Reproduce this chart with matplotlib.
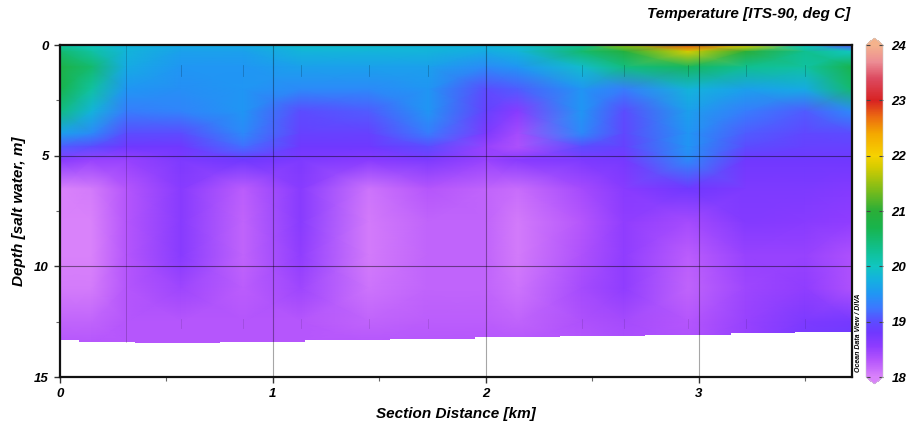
import numpy as np
import matplotlib
matplotlib.use("Agg")
import matplotlib.pyplot as plt
from matplotlib.colors import LinearSegmentedColormap, Normalize
from matplotlib.ticker import MultipleLocator
import matplotlib.cm as cm

FONT = ['Liberation Sans Narrow', 'Liberation Sans', 'DejaVu Sans']
plt.rcParams['font.family'] = FONT

# ---------------- data ----------------
dist_km = [0.0, 0.15, 0.31, 0.57, 0.86, 1.13, 1.45, 1.73, 2.0, 2.15, 2.45, 2.65, 2.95, 3.22, 3.50, 3.72]
depth_m = [0, 0.3, 1, 2, 3, 4, 4.6, 5.2, 6.5, 8, 9.5, 11, 12.5, 13.5]

# temperature per station column (values top -> bottom)
t_000 = [20.2, 20.5, 20.8, 20.7, 20.4, 19.6, 19.1, 18.6, 18.0, 18.0, 18.0, 18.05, 18.2, 18.3]
t_015 = [20.0, 20.2, 20.5, 20.2, 19.8, 19.4, 19.0, 18.5, 18.05, 18.0, 18.0, 18.05, 18.2, 18.3]
t_031 = [19.8, 19.8, 19.7, 19.5, 19.3, 19.0, 18.8, 18.5, 18.3, 18.3, 18.3, 18.3, 18.3, 18.3]
t_057 = [19.7, 19.6, 19.5, 19.45, 19.35, 19.0, 18.8, 18.7, 18.6, 18.6, 18.6, 18.45, 18.3, 18.3]
t_086 = [19.7, 19.6, 19.5, 19.5, 19.5, 19.4, 19.2, 18.8, 18.25, 18.2, 18.2, 18.25, 18.3, 18.3]
t_113 = [19.9, 19.8, 19.6, 19.4, 19.0, 18.9, 18.8, 18.7, 18.6, 18.6, 18.55, 18.45, 18.3, 18.3]
t_145 = [19.9, 19.8, 19.6, 19.4, 19.1, 18.9, 18.8, 18.6, 18.1, 18.05, 18.05, 18.1, 18.2, 18.3]
t_173 = [19.8, 19.8, 19.6, 19.5, 19.5, 19.3, 19.0, 18.7, 18.3, 18.2, 18.2, 18.2, 18.25, 18.3]
t_200 = [19.8, 19.7, 19.4, 19.0, 18.9, 18.7, 18.5, 18.5, 18.2, 18.2, 18.2, 18.2, 18.25, 18.3]
t_215 = [19.9, 19.8, 19.5, 19.1, 18.6, 18.4, 18.35, 18.6, 18.15, 18.05, 18.05, 18.1, 18.2, 18.3]
t_245 = [20.3, 20.5, 19.9, 19.5, 19.5, 19.4, 19.0, 18.7, 18.4, 18.3, 18.35, 18.4, 18.35, 18.3]
t_265 = [21.5, 20.9, 20.4, 19.3, 19.0, 18.95, 18.9, 18.75, 18.6, 18.55, 18.55, 18.55, 18.4, 18.35]
t_295 = [22.8, 21.8, 20.6, 19.8, 19.6, 19.5, 19.5, 19.4, 18.8, 18.4, 18.25, 18.2, 18.3, 18.35]
t_322 = [22.0, 21.0, 20.3, 19.6, 19.3, 19.1, 19.0, 18.8, 18.7, 18.65, 18.5, 18.45, 18.5, 18.5]
t_350 = [20.0, 20.3, 20.2, 19.7, 19.1, 18.95, 18.9, 18.8, 18.7, 18.6, 18.5, 18.55, 18.7, 18.75]
t_372 = [19.0, 20.0, 20.7, 20.5, 19.4, 19.0, 18.9, 18.8, 18.65, 18.55, 18.35, 18.35, 18.75, 18.85]

# seafloor (bottom of data) along the section
bottom_km = [0.0, 0.09, 0.35, 0.75, 1.15, 1.55, 1.95, 2.35, 2.75, 3.15, 3.45, 3.72]
bottom_m = [13.35, 13.42, 13.45, 13.42, 13.35, 13.3, 13.2, 13.15, 13.1, 13.0, 12.95, 12.85]

# station positions (small marks / light line)
stations_km = [0.31, 0.57, 0.86, 1.13, 1.45, 1.73, 2.45, 2.65, 2.95, 3.22, 3.50]

x_ticks = [0, 1, 2, 3]
y_ticks = [0, 5, 10, 15]
cbar_ticks = [18, 19, 20, 21, 22, 23, 24]

# ODV-like colour scale (value, colour)
cmap_vals = [18.0, 18.3, 18.55, 18.8, 19.0, 19.25, 19.5, 19.75, 20.0, 20.3, 20.7, 21.0,
             21.4, 21.8, 22.0, 22.4, 22.7, 23.0, 23.4, 23.7, 24.0]
cmap_cols = ['#d982fa', '#b455fc', '#8e3cff', '#7038ff', '#5c4cff', '#3c78ff', '#2096f4',
             '#14b0e0', '#10c6c0', '#10c090', '#18b44c', '#2aae38', '#80bc18', '#d6cc00',
             '#f6d200', '#f4a800', '#ec6c10', '#d82222', '#dc4a60', '#ec8c94', '#f4b28c']

# ---------------- figure ----------------
T = np.array([t_000, t_015, t_031, t_057, t_086, t_113, t_145, t_173, t_200, t_215,
              t_245, t_265, t_295, t_322, t_350, t_372]).T

vmin, vmax = 18.0, 24.0
pos = [(v - vmin) / (vmax - vmin) for v in cmap_vals]
cmap = LinearSegmentedColormap.from_list('odv', list(zip(pos, cmap_cols)), N=512)
cmap.set_under(cmap_cols[0])
cmap.set_over(cmap_cols[-1])
norm = Normalize(vmin, vmax)

fig = plt.figure(figsize=(9.10, 4.21), dpi=100)
ax = fig.add_axes([60/910, 1-377/421, 792/910, 332/421])

X, Y = np.meshgrid(dist_km, depth_m)
ax.pcolormesh(X, Y, T, cmap=cmap, norm=norm, shading='gouraud', zorder=1)

ax.fill_between(bottom_km, bottom_m, 15.5, step='post', color='white', lw=0, zorder=2)

ax.set_xlim(0, 3.72)
ax.set_ylim(15, 0)

# grid lines
for xv in [1, 2, 3]:
    ax.axvline(xv, color='black', alpha=0.35, lw=0.8, zorder=3)
for yv in [5, 10]:
    ax.axhline(yv, color='black', alpha=0.45, lw=0.8, zorder=3)
ax.plot([stations_km[0], stations_km[0]], [0, 13.4], color='black', alpha=0.18, lw=0.7, zorder=3)
for s in stations_km[1:]:
    ax.plot([s, s], [0.9, 1.4], color='black', alpha=0.22, lw=0.6, zorder=3)
    ax.plot([s, s], [12.4, 12.8], color='black', alpha=0.12, lw=0.6, zorder=3)

ax.xaxis.set_major_locator(MultipleLocator(1))
ax.xaxis.set_minor_locator(MultipleLocator(0.5))
ax.yaxis.set_major_locator(MultipleLocator(5))
ax.yaxis.set_minor_locator(MultipleLocator(2.5))
ax.set_xticks(x_ticks)
ax.set_yticks(y_ticks)
ax.tick_params(which='major', direction='out', length=4, width=1, color='#333333',
               labelsize=9.5, pad=4)
ax.tick_params(which='minor', direction='out', length=3, width=0.8, color='#666666')
for lab in ax.get_xticklabels() + ax.get_yticklabels():
    lab.set_fontweight('bold')
    lab.set_fontstyle('italic')
for sp in ax.spines.values():
    sp.set_linewidth(1.6)
    sp.set_color('#111111')
    sp.set_zorder(5)

ax.set_xlabel('Section Distance [km]', fontsize=11, fontweight='bold', fontstyle='italic', labelpad=5)
ax.set_ylabel('Depth [salt water, m]', fontsize=11, fontweight='bold', fontstyle='italic', labelpad=6)

fig.text(850/910, 1-14/421, 'Temperature [ITS-90, deg C]', ha='right', va='center',
         fontsize=11, fontweight='bold', fontstyle='italic')

# colour bar (body spans the axes height, triangles stick out)
ext_px = 7
cax = fig.add_axes([866/910, 1-(377+ext_px)/421, 17/910, (332+2*ext_px)/421])
sm = cm.ScalarMappable(norm=norm, cmap=cmap)
cb = fig.colorbar(sm, cax=cax, extend='both', extendfrac=ext_px/332, ticks=cbar_ticks)
cb.outline.set_linewidth(0.4)
cb.outline.set_edgecolor('#cccccc')
cax.tick_params(which='major', direction='in', length=3, width=0.8, color='#444444',
                left=True, right=True, labelsize=9.5, pad=6)
cax.minorticks_off()
for lab in cax.get_yticklabels():
    lab.set_fontweight('bold')
    lab.set_fontstyle('italic')

fig.text(858/910, 1-333/421, 'Ocean Data View / DIVA', rotation=90, ha='center', va='center',
         fontsize=5, fontweight='bold', fontstyle='italic')

fig.savefig('out.png', dpi=100)
